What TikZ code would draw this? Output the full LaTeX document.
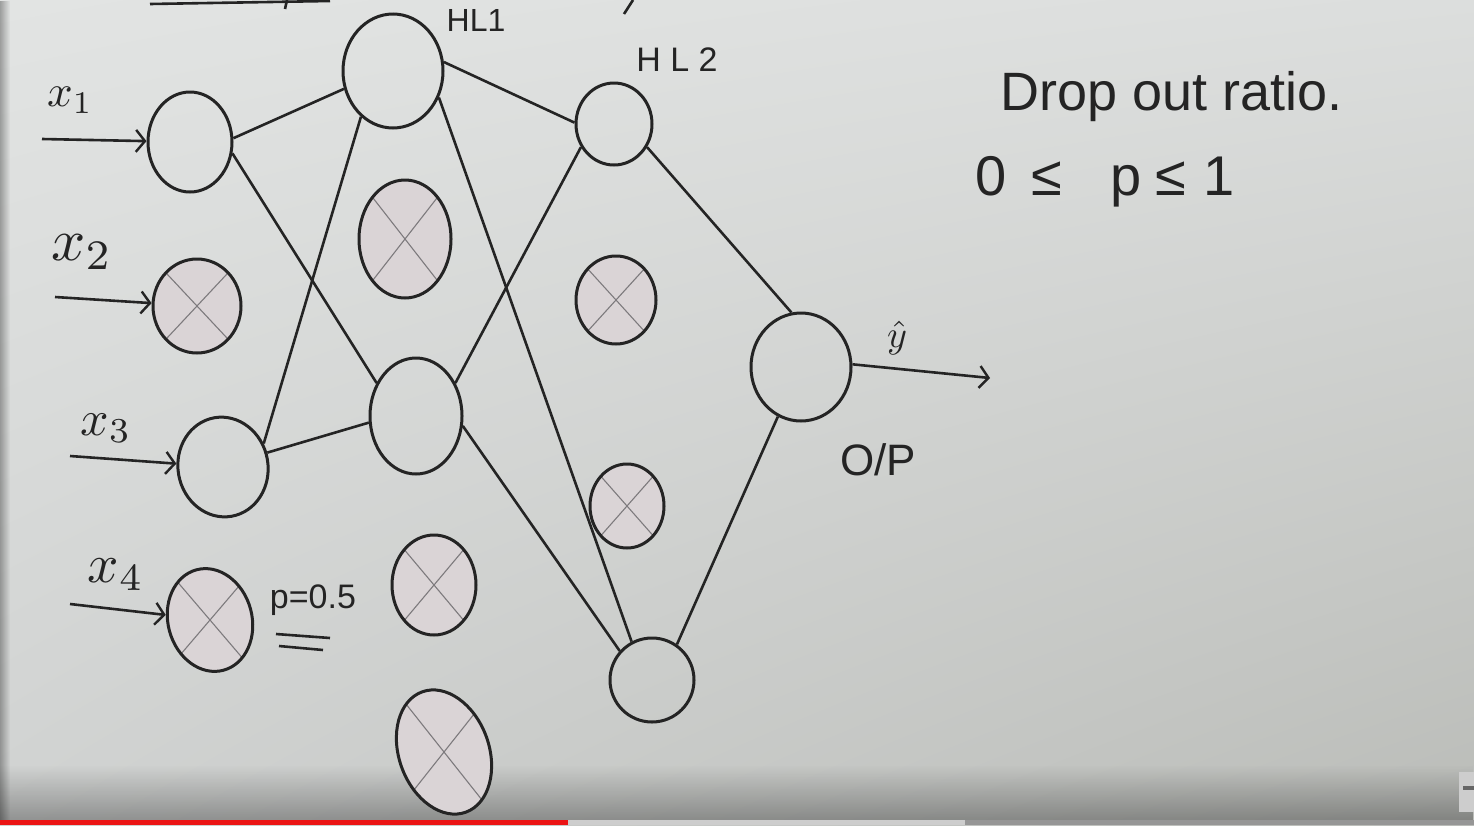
\documentclass[tikz,border=0pt]{standalone}
\usepackage{fontspec}
\setmainfont{Liberation Sans}
\usetikzlibrary{shapes.geometric,arrows.meta,fadings,shadings}
\definecolor{bgul}{RGB}{226,228,227}
\definecolor{bgur}{RGB}{220,222,221}
\definecolor{bgll}{RGB}{208,210,209}
\definecolor{bglr}{RGB}{186,188,184}
\definecolor{ink}{RGB}{36,36,36}
\definecolor{dropfill}{RGB}{218,212,214}
\definecolor{xgray}{RGB}{125,122,125}
\definecolor{ytred}{RGB}{235,20,20}
\definecolor{ytlight}{RGB}{205,205,205}
\definecolor{ytdark}{RGB}{150,150,150}
\tikzset{
  neuron/.style={ellipse, draw=ink, line width=3pt, inner sep=0pt},
  dropped/.style={neuron, fill=dropfill,
    path picture={\draw[xgray,line width=1.1pt]
      (path picture bounding box.north west) -- (path picture bounding box.south east)
      (path picture bounding box.north east) -- (path picture bounding box.south west);}},
  conn/.style={draw=ink, line width=2.6pt},
  arr/.style={draw=ink, line width=2.6pt, -{Straight Barb[length=9pt,width=22pt,line width=2.4pt]}},
  lbl/.style={text=ink, inner sep=0pt},
  mathlbl/.style={text=ink, inner sep=0pt},
}
\begin{document}
\begin{tikzpicture}[x=1pt,y=-1pt]
\useasboundingbox (0,0) rectangle (1474,825);
% board
\shade[upper left=bgul, upper right=bgur, lower left=bgll, lower right=bglr] (0,0) rectangle (1474,825);
\fill[black, path fading=north, opacity=0.3] (0,765) rectangle (1474,820);
\fill[black, path fading=east, opacity=0.3] (0,0) rectangle (10,820);
% video bar
\fill[ytred] (0,820) rectangle (568,825);
\fill[ytlight] (568,820) rectangle (965,825);
\fill[ytdark] (965,820) rectangle (1474,825);
\fill[ytlight] (1459,772) rectangle (1474,812);
\fill[ink!70] (1463,786) rectangle (1474,790);
% remnants at top
\draw[ink, line width=2.6pt] (150,4) -- (330,1);
\draw[ink, line width=2.6pt] (287,0) -- (285,9);
\draw[ink, line width=2.6pt] (633,0) -- (624,14);

% input layer
\node[neuron, minimum width=84pt, minimum height=100pt] (x1) at (190,142) {};
\node[dropped, minimum width=88pt, minimum height=94pt] (x2) at (197,306) {};
\node[neuron, minimum width=90pt, minimum height=100pt, rotate=10] (x3) at (223,467) {};
\node[dropped, minimum width=84pt, minimum height=104pt, rotate=15] (x4) at (210,620) {};
% hidden layer 1
\node[neuron, minimum width=100pt, minimum height=114pt] (h1) at (393,71) {};
\node[dropped, minimum width=92pt, minimum height=118pt] (h2) at (405,239) {};
\node[neuron, minimum width=92pt, minimum height=116pt] (h3) at (416,416) {};
\node[dropped, minimum width=84pt, minimum height=100pt] (h4) at (434,585) {};
\node[dropped, minimum width=90pt, minimum height=128pt, rotate=20] (h5) at (444,752) {};
% hidden layer 2
\node[neuron, minimum width=76pt, minimum height=82pt] (g1) at (614,124) {};
\node[dropped, minimum width=80pt, minimum height=88pt] (g2) at (616,300) {};
\node[dropped, minimum width=74pt, minimum height=84pt] (g3) at (627,506) {};
\node[neuron, minimum width=84pt, minimum height=84pt] (g4) at (652,680) {};
% output
\node[neuron, minimum width=100pt, minimum height=108pt] (o) at (801,367) {};

% connections
\draw[conn] (x1.5) -- (h1.200);
\draw[conn] (x1.-15) -- (h3.140);
\draw[conn] (x3.20) -- (h1.235);
\draw[conn] (x3.8) -- (h3.188);
\draw[conn] (h1.10) -- (g1.178);
\draw[conn] (h1.-30) -- (g4.118);
\draw[conn] (h3.40) -- (g1.215);
\draw[conn] (h3.-12) -- (g4.138);
\draw[conn] (g1.-35) -- (o.100);
\draw[conn] (g4.55) -- (o.245);

% input arrows
\coordinate (a1) at (42,139);
\coordinate (a2) at (55,297);
\coordinate (a3) at (70,456);
\coordinate (a4) at (70,604);
\draw[arr] (a1) -- (x1);
\draw[arr] (a2) -- (x2);
\draw[arr] (a3) -- (x3);
\draw[arr] (a4) -- (x4);
% output arrow
\coordinate (yo) at (990,378);
\draw[arr] (o.3) -- (yo);

% labels
\node[mathlbl, scale=4.5] (lx1) at (70,100) {$x_1$};
\node[mathlbl, scale=6] (lx2) at (82,252) {$x_2$};
\node[mathlbl, scale=5] (lx3) at (106,428) {$x_3$};
\node[mathlbl, scale=5.5] (lx4) at (116,575) {$x_4$};
\node[lbl] (lh1) at (476,20) {\fontsize{32}{32}\selectfont HL1};
\node[lbl] (lh2) at (677,60) {\fontsize{34}{34}\selectfont H L 2};
\node[mathlbl, scale=3.8] (ly) at (897,338) {$\hat{y}$};
\node[lbl] (lop) at (878,460) {\fontsize{44}{44}\selectfont O/P};
\node[lbl] (lp) at (313,600) {\fontsize{34}{34}\selectfont p=0.5};
\draw[ink, line width=2.6pt] (276,634) -- (330,638);
\draw[ink, line width=2.6pt] (279,646) -- (323,650);
\node[lbl, anchor=base west] (t1) at (1000,110) {\fontsize{54}{54}\selectfont Drop out ratio.};
\node[lbl, anchor=base west] (t2) at (975,195) {\fontsize{56}{56}\selectfont 0\hspace{25pt}≤\hspace{48pt}p\hspace{14pt}≤\hspace{18pt}1};
\end{tikzpicture}
\end{document}
